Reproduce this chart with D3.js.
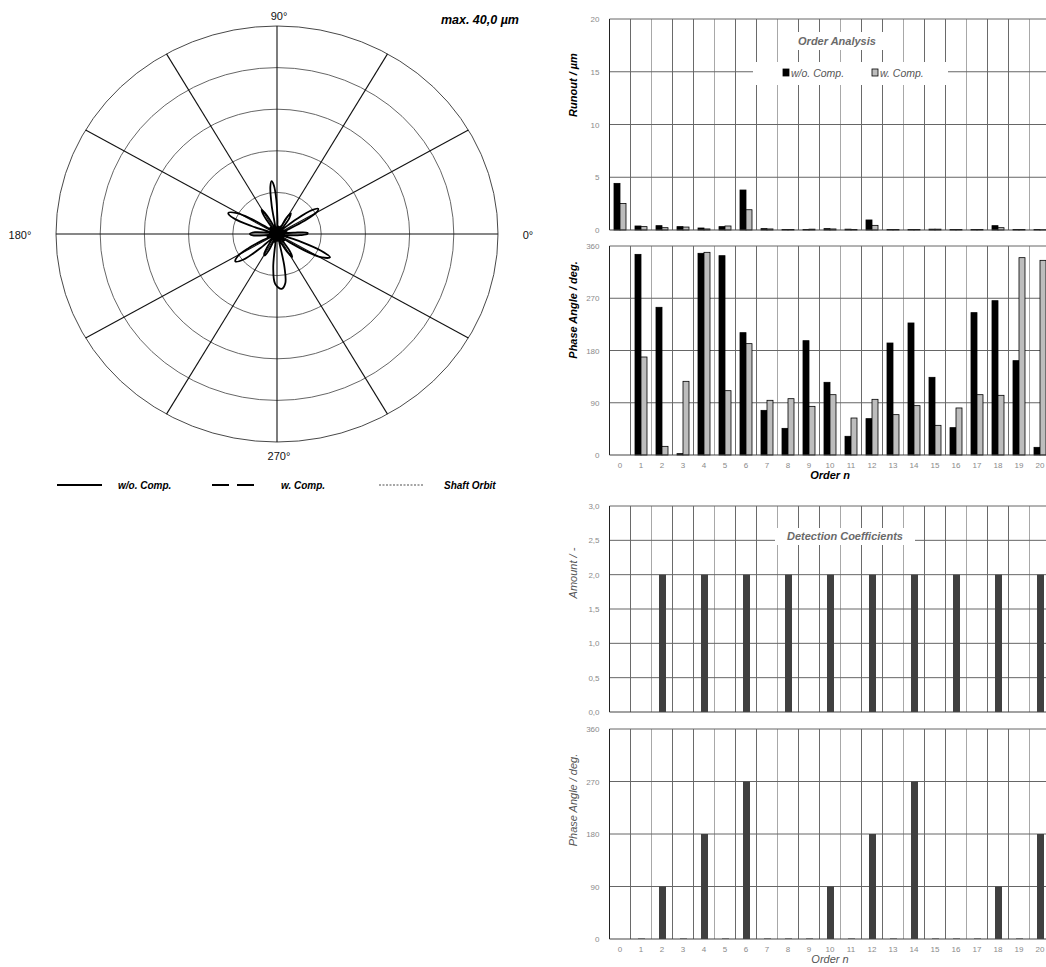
<!DOCTYPE html>
<html>
<head>
<meta charset="utf-8">
<script src="https://cdn.jsdelivr.net/npm/d3@7"></script>
<style>
  body { margin: 0; background: #fff; }
  svg { display: block; font-family: "Liberation Sans", Arial, sans-serif; }
</style>
</head>
<body>
<script>
// ---- data ----
var orders = [0,1,2,3,4,5,6,7,8,9,10,11,12,13,14,15,16,17,18,19,20];

var runoutWo = [4.42,0.38,0.41,0.32,0.19,0.32,3.79,0.13,0.05,0.05,0.13,0.08,0.95,0.05,0.05,0.08,0.05,0.05,0.41,0.05,0.05];
var runoutW  = [2.52,0.32,0.22,0.28,0.10,0.38,1.92,0.10,0.05,0.08,0.10,0.05,0.44,0.05,0.05,0.08,0.05,0.05,0.22,0.05,0.03];

var phaseWo = [0,345.6,254.4,2.3,347.4,343.3,210.7,76.9,45.9,196.9,125.2,32.2,62.6,192.9,227.4,133.8,47.1,245.2,265.8,162.5,13.2];
var phaseW  = [0,168.8,14.9,126.9,349.1,110.8,191.8,94.2,97.0,83.8,103.9,63.7,95.9,69.5,85.0,51.1,81.0,103.9,102.8,339.9,335.3];

var detAmount = [0,0,2,0,2,0,2,0,2,0,2,0,2,0,2,0,2,0,2,0,2];
var detPhase  = [0,1,90,1,180,1,270,1,1,1,90,1,180,1,270,1,1,1,90,1,180];

var runoutTicks = [0,5,10,15,20];
var phaseTicks = [0,90,180,270,360];
var amountTicks = [0,0.5,1,1.5,2,2.5,3];

var ringValues = [8,16,24,32,40];
var spokeAngles = [0,30,60,90,120,150,180,210,240,270,300,330];
var angleLabels = [[0,'0°'],[90,'90°'],[180,'180°'],[270,'270°']];

// runout profile w/o. comp. : [angle deg, radius µm]
var profileWo = [
  [0,5.5],[2.5,5.5],[5,3.0],[8,1.2],[13,1.8],[19,0.9],
  [24,2.2],[27,5.5],[30,8.2],[33,8.9],[36,7.8],[39,4.5],[42,1.5],[46,1.0],
  [50,1.8],[54,3.8],[58,4.7],[61,3.6],[64,1.2],[68,1.6],
  [74,0.8],[80,1.5],[85,1.0],[88,2.5],[91,6.5],[93.5,9.4],[95.5,10.2],[97.5,9.2],[100,5.5],[103,1.5],
  [108,1.2],[113,2.0],[117,4.0],[121,5.4],[124,4.2],[127,1.5],[131,1.0],
  [136,1.7],[141,0.9],[145,2.2],[148,5.5],[151,8.3],[155.4,9.7],[159,8.4],[162,4.5],[165,1.2],
  [170,1.5],[175,4.0],[180,4.9],[184,4.2],[187,1.6],[191,1.0],
  [196,1.8],[201,1.0],[205,2.8],[208,6.0],[211,8.3],[215,9.2],[219,7.8],[222,4.0],[225,1.2],
  [230,1.6],[235,3.0],[239,4.5],[242,4.7],[245,3.4],[248,1.2],[252,1.6],
  [257,0.9],[261,2.0],[264,6.5],[268,9.6],[274.5,10.6],[279,9.6],[282,6.5],[285,1.5],
  [289,1.0],[294,2.0],[298,3.8],[302,5.2],[305,4.0],[308,1.4],[312,1.0],
  [317,1.8],[321,1.0],[325,2.8],[328,6.5],[331,9.3],[335,10.6],[338,8.6],[341,4.5],[344,1.3],
  [349,1.0],[353,2.0],[357,4.2]
];

var width = 1046, height = 967;

var svg = d3.select('body').append('svg')
    .attr('width', width)
    .attr('height', height);

// ================= polar plot =================
var cx = 277, cy = 234;
var rX = d3.scaleLinear().domain([0, 40]).range([0, 221]);
var rY = d3.scaleLinear().domain([0, 40]).range([0, 208]);
var rad = function(a){ return a * Math.PI / 180; };

var polar = svg.append('g').attr('class', 'polar');

polar.selectAll('ellipse.ring')
    .data(ringValues)
    .enter().append('ellipse')
    .attr('cx', cx).attr('cy', cy)
    .attr('rx', function(d){ return rX(d); })
    .attr('ry', function(d){ return rY(d); })
    .attr('fill', 'none')
    .attr('stroke', function(d){ return d === 40 ? '#333' : '#555'; })
    .attr('stroke-width', 0.9);

polar.selectAll('line.spoke')
    .data(spokeAngles)
    .enter().append('line')
    .attr('x1', cx).attr('y1', cy)
    .attr('x2', function(d){ return cx + rX(40) * Math.cos(rad(d)); })
    .attr('y2', function(d){ return cy - rY(40) * Math.sin(rad(d)); })
    .attr('stroke', '#111')
    .attr('stroke-width', 1.1);

var profileLine = d3.line()
    .x(function(d){ return cx + rX(d[1]) * Math.cos(rad(d[0])); })
    .y(function(d){ return cy - rY(d[1]) * Math.sin(rad(d[0])); })
    .curve(d3.curveCatmullRomClosed.alpha(0.5));

polar.append('path')
    .datum(profileWo)
    .attr('d', profileLine)
    .attr('fill', 'none')
    .attr('stroke', '#000')
    .attr('stroke-width', 1.8)
    .attr('stroke-linejoin', 'round');

// dark knot in the centre
polar.append('ellipse')
    .attr('cx', cx).attr('cy', cy)
    .attr('rx', rX(1.5)).attr('ry', rY(1.5))
    .attr('fill', '#000');

polar.selectAll('text.ang')
    .data(angleLabels)
    .enter().append('text')
    .attr('x', function(d){
        if (d[0] === 0) return cx + rX(40) + 30;
        if (d[0] === 180) return cx - rX(40) - 36;
        return cx + 2;
    })
    .attr('y', function(d){
        if (d[0] === 90) return cy - rY(40) - 10;
        if (d[0] === 270) return cy + rY(40) + 14;
        return cy + 1;
    })
    .attr('dy', '0.35em')
    .attr('text-anchor', 'middle')
    .attr('font-size', 11)
    .attr('fill', '#111')
    .text(function(d){ return d[1]; });

svg.append('text')
    .attr('x', 519).attr('y', 24)
    .attr('text-anchor', 'end')
    .attr('font-size', 12.5)
    .attr('font-weight', 'bold')
    .attr('font-style', 'italic')
    .text('max. 40,0 µm');

// polar legend
var polarLegend = [
    { label: 'w/o. Comp.', x0: 57, x1: 102, tx: 118, dash: null, w: 2 },
    { label: 'w. Comp.', x0: 212, x1: 256, tx: 281, dash: '17,8', w: 2 },
    { label: 'Shaft Orbit', x0: 379, x1: 424, tx: 444, dash: '2,1.5', w: 0.7 }
];
var pl = svg.append('g').attr('class', 'polar-legend');
pl.selectAll('line')
    .data(polarLegend)
    .enter().append('line')
    .attr('x1', function(d){ return d.x0; })
    .attr('x2', function(d){ return d.x1; })
    .attr('y1', 485).attr('y2', 485)
    .attr('stroke', '#000')
    .attr('stroke-width', function(d){ return d.w; })
    .attr('stroke-dasharray', function(d){ return d.dash; });
pl.selectAll('text')
    .data(polarLegend)
    .enter().append('text')
    .attr('x', function(d){ return d.tx; })
    .attr('y', 489)
    .attr('font-size', 10)
    .attr('font-weight', 'bold')
    .attr('font-style', 'italic')
    .text(function(d){ return d.label; });

// ================= bar charts =================
var plotLeft = 609.5, band = 21;
var xScale = d3.scaleBand()
    .domain(orders)
    .range([plotLeft, plotLeft + band * orders.length])
    .padding(0);

function barChart(o) {
    var y = d3.scaleLinear().domain(o.domain).range([o.bottom, o.top]);
    var g = svg.append('g').attr('class', 'bar-chart');

    // vertical grid at the category borders
    g.selectAll('line.vgrid')
        .data(orders.slice(1).concat([orders.length]))
        .enter().append('line')
        .attr('x1', function(d){ return plotLeft + d * band; })
        .attr('x2', function(d){ return plotLeft + d * band; })
        .attr('y1', o.top).attr('y2', o.bottom)
        .attr('stroke', function(d, i){ return i % 3 === 1 ? '#a8a8a8' : '#6a6a6a'; })
        .attr('stroke-width', 1);

    // horizontal grid
    g.selectAll('line.hgrid')
        .data(o.ticks.slice(1))
        .enter().append('line')
        .attr('x1', plotLeft).attr('x2', width)
        .attr('y1', function(d){ return y(d); })
        .attr('y2', function(d){ return y(d); })
        .attr('stroke', '#666')
        .attr('stroke-width', 1);

    // white boxes behind title / legend
    (o.boxes || []).forEach(function(b){
        g.append('rect').attr('x', b[0]).attr('y', b[1])
            .attr('width', b[2]).attr('height', b[3]).attr('fill', '#fff');
    });

    // bars
    o.series.forEach(function(s){
        g.selectAll(null)
            .data(orders.filter(function(d, i){ return s.values[i] > 0; }))
            .enter().append('rect')
            .attr('x', function(d){ return xScale(d) + xScale.bandwidth() / 2 + s.offset; })
            .attr('y', function(d){ return y(s.values[orders.indexOf(d)]); })
            .attr('width', s.width)
            .attr('height', function(d){ return y(0) - y(s.values[orders.indexOf(d)]); })
            .attr('fill', s.fill)
            .attr('stroke', s.stroke || 'none')
            .attr('stroke-width', 0.8);
    });

    // axes lines
    g.append('line')
        .attr('x1', plotLeft).attr('x2', plotLeft)
        .attr('y1', o.top).attr('y2', o.bottom)
        .attr('stroke', '#222').attr('stroke-width', 1);
    g.append('line')
        .attr('x1', plotLeft).attr('x2', width)
        .attr('y1', o.bottom).attr('y2', o.bottom)
        .attr('stroke', '#444').attr('stroke-width', 1.2);

    // y tick labels
    var yAxis = d3.axisLeft(y)
        .tickValues(o.ticks)
        .tickSize(0)
        .tickPadding(10)
        .tickFormat(o.format);
    var ya = g.append('g')
        .attr('transform', 'translate(' + plotLeft + ',0)')
        .call(yAxis);
    ya.select('.domain').remove();
    ya.selectAll('text')
        .attr('font-family', '"Liberation Sans", Arial, sans-serif')
        .attr('font-size', 8)
        .attr('fill', '#8a8a8a');

    // x tick labels
    if (o.xLabels) {
        var xAxis = d3.axisBottom(xScale).tickSize(0).tickPadding(7);
        var xa = g.append('g')
            .attr('transform', 'translate(0,' + o.bottom + ')')
            .call(xAxis);
        xa.select('.domain').remove();
        xa.selectAll('text')
            .attr('font-family', '"Liberation Sans", Arial, sans-serif')
            .attr('font-size', 8)
            .attr('fill', '#8a8a8a');
        g.append('text')
            .attr('x', 830).attr('y', o.bottom + 24)
            .attr('text-anchor', 'middle')
            .attr('font-size', 11)
            .attr('font-style', 'italic')
            .attr('font-weight', o.strong ? 'bold' : 'normal')
            .attr('fill', o.strong ? '#000' : '#555')
            .text('Order n');
    }

    // y axis title
    g.append('text')
        .attr('transform', 'translate(573,' + o.labelY + ') rotate(-90)')
        .attr('text-anchor', 'middle')
        .attr('dy', '0.35em')
        .attr('font-size', 11)
        .attr('font-style', 'italic')
        .attr('font-weight', o.strong ? 'bold' : 'normal')
        .attr('fill', o.strong ? '#000' : '#555')
        .text(o.label);

    if (o.title) {
        g.append('text')
            .attr('x', o.title[1]).attr('y', o.title[2])
            .attr('text-anchor', 'middle')
            .attr('dy', '0.35em')
            .attr('font-size', 11)
            .attr('font-weight', 'bold')
            .attr('font-style', 'italic')
            .attr('fill', '#6a6a6a')
            .text(o.title[0]);
    }
    return g;
}

var comma1 = function(d){ return d3.format('.1f')(d).replace('.', ','); };

var c1 = barChart({
    top: 19, bottom: 230, domain: [0, 20], ticks: runoutTicks, format: d3.format('d'),
    label: 'Runout / µm', labelY: 85, strong: true,
    title: ['Order Analysis', 837, 41],
    boxes: [[790, 32, 96, 18], [753, 62, 195, 23]],
    series: [
        { values: runoutWo, offset: -6, width: 6, fill: '#000', stroke: '#000' },
        { values: runoutW, offset: 0, width: 6, fill: '#bdbdbd', stroke: '#000' }
    ]
});

// legend of the order analysis
var legendItems = [['w/o. Comp.', '#000', 783], ['w. Comp.', '#bdbdbd', 872]];
c1.selectAll('rect.leg')
    .data(legendItems)
    .enter().append('rect')
    .attr('x', function(d){ return d[2]; })
    .attr('y', 69)
    .attr('width', 6).attr('height', 7)
    .attr('fill', function(d){ return d[1]; })
    .attr('stroke', '#000').attr('stroke-width', 0.8);
c1.selectAll('text.leg')
    .data(legendItems)
    .enter().append('text')
    .attr('x', function(d){ return d[2] + 8; })
    .attr('y', 77)
    .attr('font-size', 10.5)
    .attr('font-style', 'italic')
    .attr('fill', '#555')
    .text(function(d){ return d[0]; });

barChart({
    top: 246, bottom: 455, domain: [0, 360], ticks: phaseTicks, format: d3.format('d'),
    label: 'Phase Angle / deg.', labelY: 310, strong: true, xLabels: true,
    series: [
        { values: phaseWo, offset: -6, width: 6, fill: '#000', stroke: '#000' },
        { values: phaseW, offset: 0, width: 6, fill: '#bdbdbd', stroke: '#000' }
    ]
});

barChart({
    top: 506, bottom: 712, domain: [0, 3], ticks: amountTicks, format: comma1,
    label: 'Amount / -', labelY: 573, strong: false,
    title: ['Detection Coefficients', 845, 536],
    boxes: [[775, 528, 140, 17]],
    series: [
        { values: detAmount, offset: -3, width: 7, fill: '#404040' }
    ]
});

barChart({
    top: 729, bottom: 939, domain: [0, 360], ticks: phaseTicks, format: d3.format('d'),
    label: 'Phase Angle / deg.', labelY: 800, strong: false, xLabels: true,
    series: [
        { values: detPhase, offset: -3, width: 7, fill: '#404040' }
    ]
});
</script>
</body>
</html>
